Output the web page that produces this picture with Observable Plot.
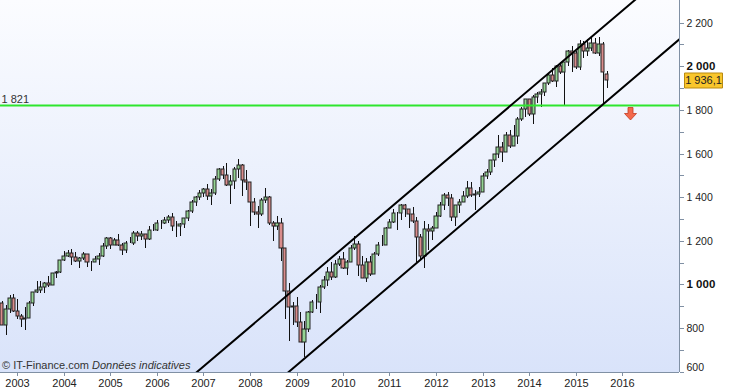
<!DOCTYPE html>
<html><head><meta charset="utf-8">
<script src="https://cdn.jsdelivr.net/npm/d3@7"></script>
<script src="https://cdn.jsdelivr.net/npm/@observablehq/plot@0.6"></script>
<style>
body{margin:0;background:#fff}
#chart{width:734px;height:391px;font-family:"Liberation Sans",Arial,sans-serif}
</style>
</head><body><div id="chart"></div>
<script>
// Monthly candles, first candle = September 2002
const firstYear = 2002, firstMonth = 8;
const open = [
 916,815,886,936,
 880,856,841,848,917,964,975,990,1008,996,1051,1058,
 1112,1131,1145,1126,1107,1121,1141,1102,1104,1115,1130,1174,
 1212,1181,1204,1181,1157,1192,1191,1234,1220,1229,1207,1249,
 1248,1280,1281,1295,1311,1270,1270,1277,1304,1336,1378,1401,
 1418,1438,1407,1421,1482,1531,1503,1455,1474,1527,1549,1481,
 1468,1379,1331,1323,1386,1400,1280,1267,1283,1166,969,896,
 903,826,735,798,873,919,919,987,1021,1057,1036,1096,
 1115,1074,1104,1169,1187,1089,1031,1102,1049,1141,1183,1181,
 1258,1286,1327,1326,1364,1345,1321,1292,1219,1131,1253,1247,
 1258,1312,1366,1408,1398,1310,1362,1379,1407,1441,1412,1416,
 1426,1498,1515,1569,1598,1631,1606,1686,1633,1682,1757,1806,
 1848,1783,1859,1872,1884,1924,1960,1931,2003,1972,2018,2068,
 2059,1995,2104,2068,2086,2107,2063,2104,1965];
const high = [
 924,907,952,954,
 935,864,896,924,965,1015,1015,1011,1040,1054,1063,1112,
 1155,1158,1164,1151,1128,1147,1141,1109,1131,1142,1188,1218,
 1217,1212,1229,1192,1199,1219,1246,1245,1243,1233,1270,1276,
 1295,1297,1311,1319,1326,1290,1281,1306,1340,1389,1407,1431,
 1441,1461,1439,1499,1535,1541,1556,1503,1539,1576,1553,1523,
 1471,1396,1359,1397,1441,1405,1292,1313,1304,1167,1007,919,
 944,875,832,877,930,956,996,1040,1081,1102,1112,1131,
 1151,1113,1180,1220,1201,1131,1120,1129,1150,1196,1228,1263,
 1302,1344,1333,1367,1371,1346,1357,1307,1230,1293,1277,1270,
 1333,1378,1420,1422,1416,1364,1392,1427,1475,1471,1434,1448,
 1509,1530,1570,1598,1687,1654,1698,1709,1730,1768,1813,1849,
 1850,1867,1884,1897,1925,1968,1991,2006,2019,2019,2075,2093,
 2072,2119,2117,2126,2135,2130,2133,2113,1978];
const low = [
 815,768,869,872,
 840,807,789,847,902,963,962,960,990,996,1031,1053,
 1106,1124,1088,1104,1076,1113,1078,1060,1102,1090,1127,1163,
 1163,1180,1176,1137,1146,1188,1183,1201,1206,1168,1202,1246,
 1245,1253,1277,1280,1245,1219,1224,1261,1291,1327,1360,1385,
 1403,1389,1364,1412,1476,1484,1453,1371,1439,1490,1406,1435,
 1270,1317,1257,1313,1373,1272,1200,1249,1107,840,741,815,
 805,735,667,784,867,888,869,979,992,1020,1029,1086,
 1071,1045,1101,1157,1040,1029,1011,1040,1049,1132,1174,1180,
 1257,1282,1249,1295,1311,1258,1283,1102,1115,1075,1159,1203,
 1258,1311,1340,1358,1292,1267,1326,1378,1397,1403,1343,1399,
 1426,1485,1502,1537,1581,1560,1605,1627,1633,1646,1747,1767,
 1770,1737,1834,1815,1863,1915,1930,1905,1964,1821,2002,1973,
 1988,1981,2040,2048,2068,2056,2045,1831,1902];
const close = [
 815,886,936,880,
 856,841,848,917,964,975,990,1008,996,1051,1058,1112,
 1131,1145,1126,1107,1121,1141,1102,1104,1115,1130,1174,1212,
 1181,1204,1181,1157,1192,1191,1234,1220,1229,1207,1249,1248,
 1280,1281,1295,1311,1270,1270,1277,1304,1336,1378,1401,1418,
 1438,1407,1421,1482,1531,1503,1455,1474,1527,1549,1481,1468,
 1379,1331,1323,1386,1400,1280,1267,1283,1166,969,896,903,
 826,735,798,873,919,919,987,1021,1057,1036,1096,1115,
 1074,1104,1169,1187,1089,1031,1102,1049,1141,1183,1181,1258,
 1286,1327,1326,1364,1345,1321,1292,1219,1131,1253,1247,1258,
 1312,1366,1408,1398,1310,1362,1379,1407,1441,1412,1416,1426,
 1498,1515,1569,1598,1631,1606,1686,1633,1682,1757,1806,1848,
 1783,1859,1872,1884,1924,1960,1931,2003,1972,2018,2068,2059,
 1995,2104,2068,2086,2107,2063,2104,1972,1936.1];

const yearTicks = [2003,2004,2005,2006,2007,2008,2009,2010,2011,2012,2013,2014,2015,2016];
const yLabels = [600,800,1000,1200,1400,1600,1800,2000,2200];
const yBold = [1000,2000];
const yMinor = [700,900,1100,1300,1500,1700,1900,2100];
const supportLevel = 1821;
const lastPrice = 1936.1;
const upperChannel = [{date:"2006-01-01", value:446},{date:"2017-06-01", value:2517}];
const lowerChannel = [{date:"2008-01-01", value:451},{date:"2017-06-01", value:2160}];
const signal = [{date:"2016-03-04", value:1788}];
const credit = ["© IT-Finance.com ", "Données indicatives"];

const loc = d3.formatLocale({decimal:",", thousands:" ", grouping:[3], currency:["",""]});
const fmtInt = loc.format(",");
const fmtPrice = loc.format(",.1f");

const candles = open.map((o,i)=>({
  date: new Date(Date.UTC(firstYear, firstMonth+i, 1)),
  open:o, high:high[i], low:low[i], close:close[i]
}));
const parse = d3.utcParse("%Y-%m-%d");
const up = upperChannel.map(d=>({date:parse(d.date), value:d.value}));
const lo = lowerChannel.map(d=>({date:parse(d.date), value:d.value}));
const sig = signal.map(d=>({date:parse(d.date), value:d.value}));
const DAY = 864e5;

const xDomain = [new Date(Date.UTC(2002,7,18)), new Date(Date.UTC(2017,2,23))];
const yDomain = [598.6, 2304];
const axisCol = "#8090a4";
const upCol = "#94d494", downCol = "#d98c8c";

const arrowSymbol = {draw(ctx){
  ctx.moveTo(-2.5,-6); ctx.lineTo(2.5,-6); ctx.lineTo(2.5,0); ctx.lineTo(6,0);
  ctx.lineTo(0,6.5); ctx.lineTo(-6,0); ctx.lineTo(-2.5,0); ctx.closePath();
}};
const tagSymbol = {draw(ctx){ ctx.rect(-19,-7.5,38,15); }};

const chart = Plot.plot({
  width:734, height:391,
  marginLeft:0, marginRight:55, marginTop:0, marginBottom:19,
  x:{type:"utc", domain:xDomain, round:true},
  y:{domain:yDomain, round:true},
  color:{type:"identity"},
  style:{background:"transparent", fontFamily:"'Liberation Sans', Arial, sans-serif", fontSize:"11px", color:"#222"},
  marks:[
    Plot.ruleX(candles, {x:"date", y1:"low", y2:"high", stroke:"#111", strokeWidth:1}),
    Plot.rect(candles, {
      x1:d=>new Date(+d.date-12*DAY), x2:d=>new Date(+d.date+12*DAY),
      y1:"open", y2:"close",
      fill:d=>d.close>=d.open?upCol:downCol, stroke:"#222", strokeWidth:1
    }),
    Plot.ruleY([supportLevel], {stroke:"#2ee62e", strokeWidth:2}),
    Plot.line(up, {x:"date", y:"value", stroke:"#000", strokeWidth:2, clip:true}),
    Plot.line(lo, {x:"date", y:"value", stroke:"#000", strokeWidth:2, clip:true}),
    Plot.ruleX([xDomain[1]], {stroke:axisCol}),
    Plot.ruleY([yDomain[0]], {stroke:axisCol}),
    Plot.axisX(yearTicks.map(y=>new Date(Date.UTC(y,0,1))), {tickSize:4, tickPadding:3, tickFormat:"%Y", label:null, stroke:axisCol, fill:"#222", fontSize:11}),
    Plot.axisY([...yLabels, ...yMinor], {anchor:"right", tickSize:4, tickFormat:()=>"", label:null, stroke:axisCol}),
    Plot.text(yLabels.filter(v=>v!==600 && !yBold.includes(v)), {y:d=>d, frameAnchor:"right", dx:7, textAnchor:"start", text:fmtInt, fontSize:10.5, fill:"#222"}),
    Plot.text(yBold, {y:d=>d, frameAnchor:"right", dx:7, textAnchor:"start", text:fmtInt, fontSize:11.5, fontWeight:"bold", fill:"#111"}),
    Plot.text([600], {y:d=>d, frameAnchor:"right", dx:7, dy:-5, textAnchor:"start", text:fmtInt, fontSize:10.5, fill:"#222"}),
    Plot.text([supportLevel], {y:d=>d, frameAnchor:"left", dx:1, dy:-6, textAnchor:"start", text:fmtInt, fontSize:11, fill:"#333"}),
    Plot.dot([lastPrice], {y:d=>d, frameAnchor:"right", dx:24, symbol:tagSymbol, fill:"#f9c62c", stroke:"#b98a10", strokeWidth:1}),
    Plot.text([lastPrice], {y:d=>d, frameAnchor:"right", dx:24, textAnchor:"middle", text:fmtPrice, fontSize:11, fill:"#222"}),
    Plot.dot(sig, {x:"date", y:"value", symbol:arrowSymbol, fill:"#f4694c", stroke:"#c23a22", strokeWidth:0.8})
  ]
});

// gradient plot background (behind all marks)
const svg = d3.select(chart);
const xr = chart.scale("x").range, yr = chart.scale("y").range;
const defs = svg.insert("defs", ":first-child");
const g = defs.append("linearGradient").attr("id","bgGrad").attr("x1",0).attr("y1",0).attr("x2",0).attr("y2",1);
g.append("stop").attr("offset","0%").attr("stop-color","#fbfcff");
g.append("stop").attr("offset","100%").attr("stop-color","#d9e3fa");
svg.insert("rect", "defs + *")
  .attr("x", Math.min(...xr)).attr("y", Math.min(...yr))
  .attr("width", Math.abs(xr[1]-xr[0])).attr("height", Math.abs(yr[1]-yr[0]))
  .attr("fill","url(#bgGrad)");
const t = svg.append("text").attr("x",2).attr("y",Math.max(...yr)-3)
  .attr("text-anchor","start")
  .attr("font-size",11).attr("fill","#333").attr("font-family","'Liberation Sans', Arial, sans-serif");
t.append("tspan").text(credit[0]);
t.append("tspan").attr("font-style","italic").text(credit[1]);

document.getElementById("chart").append(chart);
</script>
</body></html>
